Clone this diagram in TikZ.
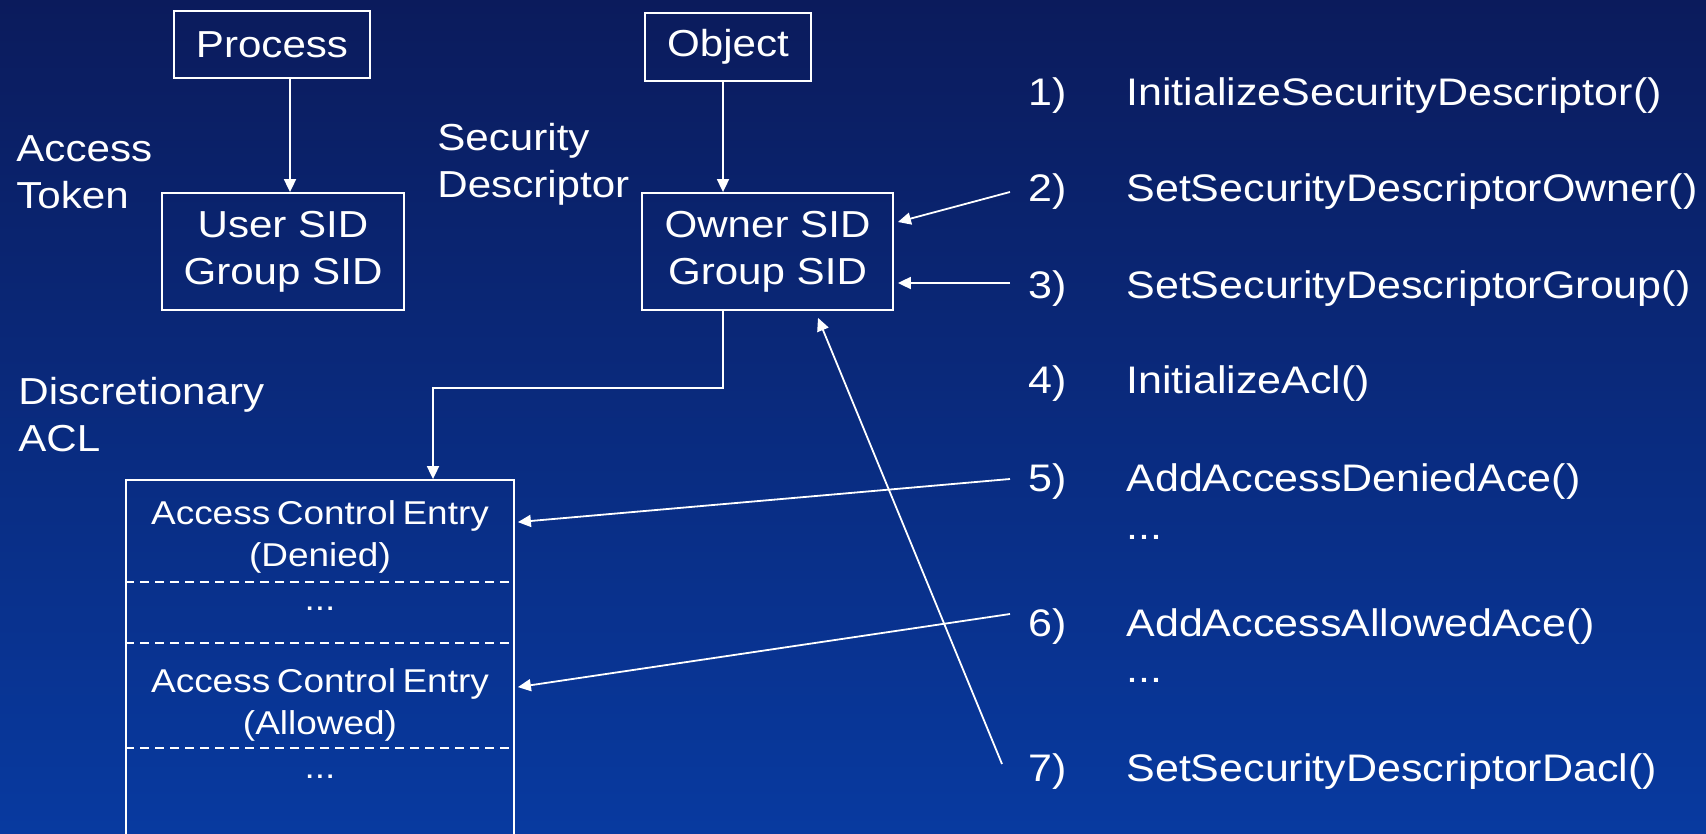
\documentclass[tikz,border=0pt]{standalone}
\usepackage{fontspec}
\setmainfont[FakeStretch=1.12]{Liberation Sans}
\usetikzlibrary{arrows.meta,calc}

\definecolor{bgtop}{RGB}{11,27,92}
\definecolor{bgbot}{RGB}{8,58,160}

\newcommand\boxfont{\fontsize{18.8}{23.5}\selectfont}
\newcommand\listfont{\fontsize{19.2}{23}\selectfont}
\newcommand\aclfont{\fontsize{16.5}{21.25}\selectfont\spaceskip=0.2em\relax}

\tikzset{
  every node/.style={text=white},
  box/.style={draw=white, line width=0.9pt, inner sep=0pt, align=center, font=\boxfont},
  lbl/.style={anchor=north west, inner sep=0pt, align=left, font=\boxfont},
  num/.style={anchor=base west, inner sep=0pt, font=\listfont},
  fn/.style={anchor=base west, inner sep=0pt, font=\listfont},
  entry/.style={anchor=north, inner sep=0pt, align=center, font=\aclfont},
  dots/.style={anchor=base, inner sep=0pt, font=\aclfont},
  arr/.style={draw=white, line width=0.9pt, -{Triangle[length=6.5pt,width=6pt]}},
  sepline/.style={draw=white, line width=0.9pt, dash pattern=on 4.5pt off 3pt}
}

\begin{document}
\begin{tikzpicture}[x=0.5pt, y=-0.5pt]
  % background
  \shade[top color=bgtop, bottom color=bgbot] (0,0) rectangle (1706,834);
  \useasboundingbox (0,0) rectangle (1706,834);
  \clip (0,0) rectangle (1706,834);

  % boxes
  \node[box, minimum width=98pt, minimum height=33.5pt] (proc) at (272,44.5) {Process};
  \node[box, minimum width=83pt, minimum height=34pt] (obj) at (728,47) {Object};
  \node[box, minimum width=121pt, minimum height=58.5pt] (usr) at (283,251.5) {User SID\\Group SID};
  \node[box, minimum width=125.5pt, minimum height=58.5pt] (own) at (767.5,251.5) {Owner SID\\Group SID};
  \node[box, minimum width=194pt, minimum height=190pt] (acl) at (320,670) {};

  % side labels
  \node[lbl] (tok) at (16,135) {Access\\Token};
  \node[lbl] (sd) at (437,123) {Security\\Descriptor};
  \node[lbl] (dacl) at (18,377) {Discretionary\\ACL};

  % entries of the ACL
  \node[entry] (e1) at (320,500) {Access Control Entry\\(Denied)};
  \node[dots] (d1) at (320,610) {...};
  \node[entry] (e2) at (320,668) {Access Control Entry\\(Allowed)};
  \node[dots] (d2) at (320,778) {...};
  \draw[sepline] ($(acl.north west)+(0,103)$) -- ($(acl.north east)+(0,103)$);
  \draw[sepline] ($(acl.north west)+(0,164)$) -- ($(acl.north east)+(0,164)$);
  \draw[sepline] ($(acl.north west)+(0,269)$) -- ($(acl.north east)+(0,269)$);

  % API calls
  \node[num] (n1) at (1028,106) {1)};
  \node[fn]  (f1) at (1126,106) {InitializeSecurityDescriptor()};
  \node[num] (n2) at (1028,202) {2)};
  \node[fn]  (f2) at (1126,202) {SetSecurityDescriptorOwner()};
  \node[num] (n3) at (1028,298) {3)};
  \node[fn]  (f3) at (1126,298) {SetSecurityDescriptorGroup()};
  \node[num] (n4) at (1028,393) {4)};
  \node[fn]  (f4) at (1126,393) {InitializeAcl()};
  \node[num] (n5) at (1028,491) {5)};
  \node[fn]  (f5) at (1126,491) {AddAccessDeniedAce()};
  \node[fn]  (g5) at (1126,539) {...};
  \node[num] (n6) at (1028,636) {6)};
  \node[fn]  (f6) at (1126,636) {AddAccessAllowedAce()};
  \node[fn]  (g6) at (1126,682) {...};
  \node[num] (n7) at (1028,781) {7)};
  \node[fn]  (f7) at (1126,781) {SetSecurityDescriptorDacl()};

  % connectors
  \coordinate (px) at (290,0);
  \coordinate (ox) at (723,0);
  \coordinate (elb) at (433,388);
  \draw[arr] (proc.south -| px) -- (usr.north -| px);
  \draw[arr] (obj.south -| ox) -- (own.north -| ox);
  \draw[arr] (own.south -| ox) |- (elb) -- (acl.north -| elb);

  \draw[arr] ($(n2.base west)+(-18,-10)$) -- ($(own.east)+(4,-29.5)$);
  \draw[arr] ($(n3.base west)+(-18,-15)$) -- ($(own.east)+(4,31.5)$);
  \draw[arr] ($(n5.base west)+(-18,-12)$) -- ($(acl.north east)+(3,43)$);
  \draw[arr] ($(n6.base west)+(-18,-22)$) -- ($(acl.north east)+(3,208)$);
  \draw[arr] ($(n7.base west)+(-26,-17)$) -- ($(own.south)+(50.5,7)$);
\end{tikzpicture}
\end{document}
